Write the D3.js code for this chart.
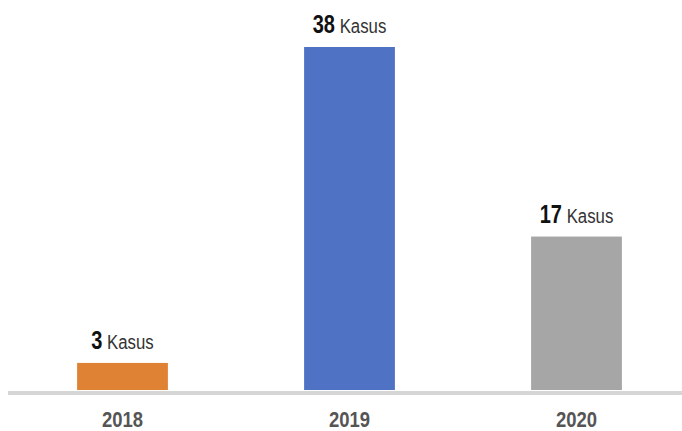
<!DOCTYPE html>
<html>
<head>
<meta charset="utf-8">
<script src="https://cdn.jsdelivr.net/npm/d3@7"></script>
<style>
  html, body { margin: 0; padding: 0; background: #ffffff; }
  svg { display: block; }
  text { font-family: "Liberation Sans", Arial, sans-serif; }
</style>
</head>
<body>
<svg id="chart" width="682" height="431"></svg>
<script>
const categories = ["2018", "2019", "2020"];
const values = [3, 38, 17];
const unitLabel = "Kasus";
const barColors = ["#E08234", "#4F72C5", "#A6A6A6"];

const svg = d3.select("#chart");
const narrow = 0.8;

const x = d3.scaleBand()
  .domain(categories)
  .range([9, 690])
  .paddingInner(0.6)
  .paddingOuter(0.3);

const y = d3.scaleLinear()
  .domain([0, 38])
  .range([390, 47]);

// bars
svg.selectAll("rect.bar")
  .data(categories)
  .enter().append("rect")
  .attr("class", "bar")
  .attr("x", d => x(d))
  .attr("width", x.bandwidth())
  .attr("y", (d, i) => y(values[i]))
  .attr("height", (d, i) => y(0) - y(values[i]))
  .attr("fill", (d, i) => barColors[i]);

// baseline axis
const xAxis = d3.axisBottom(x).tickSize(0).tickPadding(0);
const axisG = svg.append("g")
  .attr("transform", `translate(0, ${y(0) + 3})`)
  .call(xAxis);
axisG.select(".domain").remove();
axisG.append("line")
  .attr("x1", 8).attr("x2", 682)
  .attr("y1", 0).attr("y2", 0)
  .attr("stroke", "#D6D6D6")
  .attr("stroke-width", 4);
axisG.selectAll(".tick text")
  .attr("y", 0)
  .attr("dy", 0)
  .attr("transform", `translate(0, 34) scale(0.84, 1)`)
  .attr("fill", "#555555")
  .style("font-size", "22px")
  .style("font-weight", "bold");

// value labels
const labels = svg.selectAll("text.val")
  .data(categories)
  .enter().append("text")
  .attr("class", "val")
  .attr("transform", (d, i) => `translate(${x(d) + x.bandwidth() / 2}, ${y(values[i]) - 14}) scale(${narrow}, 1)`)
  .attr("text-anchor", "middle");
labels.append("tspan")
  .text((d, i) => values[i])
  .attr("fill", "#111111")
  .style("font-size", "25px")
  .style("font-weight", "bold");
labels.append("tspan")
  .text(" " + unitLabel)
  .attr("fill", "#333333")
  .style("font-size", "21px");
</script>
</body>
</html>
